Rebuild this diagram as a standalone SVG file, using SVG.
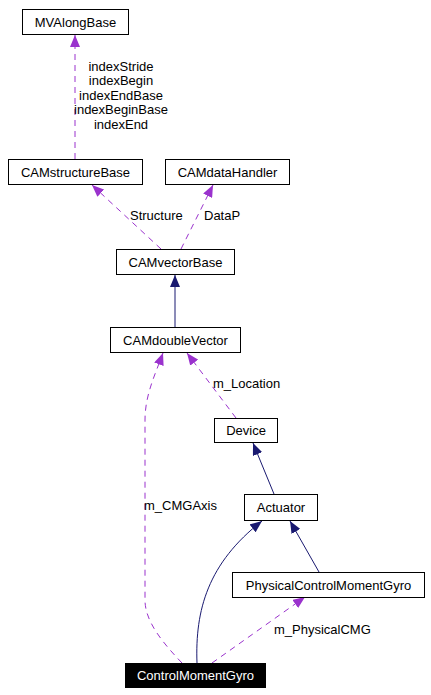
<svg xmlns="http://www.w3.org/2000/svg" width="431" height="695" viewBox="0 0 431 695">
<defs>
<style>
.box{fill:#fff;stroke:#000;stroke-width:1}
.t{font-family:"Liberation Sans",Arial,sans-serif;font-size:13px;fill:#000;text-anchor:middle}
.lbl{font-family:"Liberation Sans",Arial,sans-serif;font-size:13px;fill:#000}
.use{fill:none;stroke:#9a32cd;stroke-width:1;stroke-dasharray:6,5}
.inh{fill:none;stroke:#191970;stroke-width:1}
</style>
<marker id="ap" viewBox="0 0 12 10" refX="12" refY="5" markerWidth="12" markerHeight="10" markerUnits="userSpaceOnUse" orient="auto">
<path d="M0,0 L12,5 L0,10 z" fill="#9a32cd"/>
</marker>
<marker id="an" viewBox="0 0 12 10" refX="12" refY="5" markerWidth="12" markerHeight="10" markerUnits="userSpaceOnUse" orient="auto">
<path d="M0,0 L12,5 L0,10 z" fill="#191970"/>
</marker>
</defs>
<rect width="431" height="695" fill="#fff"/>
<g id="connectors">
<path class="use" d="M75,159 L75,35" marker-end="url(#ap)"/>
<path class="use" d="M161,249 L92,185" marker-end="url(#ap)"/>
<path class="use" d="M181,249 L213,185" marker-end="url(#ap)"/>
<path class="inh" d="M175,327 L175,275" marker-end="url(#an)"/>
<path class="use" d="M236,418 L187,353" marker-end="url(#ap)"/>
<path class="inh" d="M274,494 L253,443" marker-end="url(#an)"/>
<path class="use" d="M182,663 C160,640 145,620 145,600 L145,420 C145,395 155,375 163,353" marker-end="url(#ap)"/>
<path class="inh" d="M197,663 C195,610 208,563 262,521" marker-end="url(#an)"/>
<path class="inh" d="M319,572 L290,521" marker-end="url(#an)"/>
<path class="use" d="M212,663 L305,597" marker-end="url(#ap)"/>
<text class="t" x="121" y="70.5">indexStride</text>
<text class="t" x="121" y="84.5">indexBegin</text>
<text class="t" x="121" y="99.5">indexEndBase</text>
<text class="t" x="121" y="113.5">indexBeginBase</text>
<text class="t" x="121" y="128.5">indexEnd</text>
<text class="lbl" x="130" y="220">Structure</text>
<text class="lbl" x="204" y="220">DataP</text>
<text class="lbl" x="213" y="388">m_Location</text>
<text class="lbl" x="144" y="510">m_CMGAxis</text>
<text class="lbl" x="274" y="634">m_PhysicalCMG</text>
</g>
<g id="MVAlongBase"><rect class="box" x="22.5" y="9.5" width="106" height="25"/><text class="t" x="75.5" y="26.5">MVAlongBase</text></g>
<g id="CAMstructureBase"><rect class="box" x="8.5" y="159.5" width="134" height="25"/><text class="t" x="75.5" y="176.5">CAMstructureBase</text></g>
<g id="CAMdataHandler"><rect class="box" x="165.5" y="159.5" width="124" height="25"/><text class="t" x="227.5" y="176.5">CAMdataHandler</text></g>
<g id="CAMvectorBase"><rect class="box" x="116.5" y="249.5" width="118" height="25"/><text class="t" x="175.5" y="266.5">CAMvectorBase</text></g>
<g id="CAMdoubleVector"><rect class="box" x="110.5" y="327.5" width="130" height="25"/><text class="t" x="175.5" y="344.5">CAMdoubleVector</text></g>
<g id="Device"><rect class="box" x="214.5" y="418.5" width="63" height="24"/><text class="t" x="246" y="435">Device</text></g>
<g id="Actuator"><rect class="box" x="244.5" y="494.5" width="73" height="26"/><text class="t" x="281" y="512">Actuator</text></g>
<g id="PhysicalControlMomentGyro"><rect class="box" x="232.5" y="572.5" width="192" height="25"/><text class="t" x="328.5" y="589.5">PhysicalControlMomentGyro</text></g>
<g id="ControlMomentGyro"><rect x="125" y="663" width="141" height="25" fill="#000"/><text class="t" x="195.5" y="680" style="fill:#fff">ControlMomentGyro</text></g>
</svg>
